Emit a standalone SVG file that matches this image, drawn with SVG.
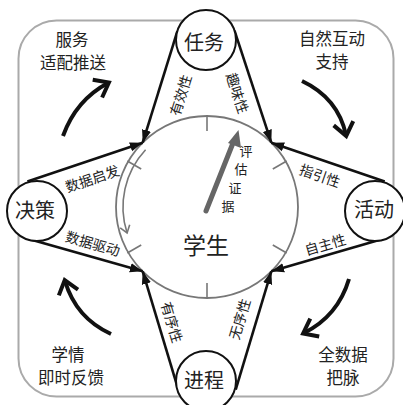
<svg xmlns="http://www.w3.org/2000/svg" width="403" height="405" viewBox="0 0 403 405">
  <style>
    .cjk { font-family: "Noto Sans CJK SC", "Noto Sans CJK JP", sans-serif; fill: #222; text-anchor: middle; dominant-baseline: central; }
    .node circle { fill: #fff; stroke: #111; stroke-width: 2; }
    .node text { font-size: 20px; }
    .conn { stroke: #111; stroke-width: 2.6; fill: none; marker-end: url(#ah); }
    .clab { font-size: 14px; }
    .corner { font-size: 16.5px; }
    .flow { stroke: #111; stroke-width: 4; fill: none; marker-end: url(#chev); }
    .tick { stroke: #777; stroke-width: 1.6; }
  </style>
  <defs>
    <marker id="ah" markerUnits="userSpaceOnUse" markerWidth="14" markerHeight="12" refX="11" refY="5" orient="auto" viewBox="0 0 12 10">
      <path d="M0,1 L11,5 L0,9 Z" fill="#111"/>
    </marker>
    <marker id="chev" markerUnits="userSpaceOnUse" markerWidth="24" markerHeight="24" refX="15" refY="12" orient="auto" viewBox="0 0 24 24">
      <path d="M3,2 L16,12 L3,22" fill="none" stroke="#111" stroke-width="4" stroke-linejoin="miter"/>
    </marker>
    <marker id="gchev" markerUnits="userSpaceOnUse" markerWidth="14" markerHeight="14" refX="9" refY="7" orient="auto" viewBox="0 0 14 14">
      <path d="M2,2 L9,7 L2,12" fill="none" stroke="#777" stroke-width="1.6"/>
    </marker>
  </defs>

  <!-- frame -->
  <rect x="18.5" y="20.5" width="375" height="376" rx="38" ry="38" fill="#fff" stroke="#aaa" stroke-width="2"/>

  <!-- corner flow arrows -->
  <g id="flows">
    <path class="flow" d="M63,136 Q76,100 108,83"/>
    <path class="flow" d="M302,81 Q338,98 346,135"/>
    <path class="flow" d="M349,279 Q338,316 304,333"/>
    <path class="flow" d="M111,334 Q76,318 65,281"/>
  </g>

  <!-- corner texts -->
  <text class="cjk corner" x="72" y="39">服务</text>
  <text class="cjk corner" x="73" y="62">适配推送</text>
  <text class="cjk corner" x="332" y="38">自然互动</text>
  <text class="cjk corner" x="332" y="61">支持</text>
  <text class="cjk corner" x="68" y="354">学情</text>
  <text class="cjk corner" x="71" y="377">即时反馈</text>
  <text class="cjk corner" x="343" y="354">全数据</text>
  <text class="cjk corner" x="343" y="377">把脉</text>

  <!-- student circle -->
  <g id="student">
    <circle cx="207" cy="207" r="91" fill="#fff" stroke="#777" stroke-width="1.8"/>
    <path d="M145.6,149.7 A84,84 0 0 0 127.1,233" fill="none" stroke="#777" stroke-width="1.6" marker-end="url(#gchev)"/>
    <line class="tick" x1="207" y1="131" x2="207" y2="115"/>
    <line class="tick" x1="272.8" y1="169" x2="286.7" y2="161"/>
    <line class="tick" x1="272.8" y1="245" x2="286.7" y2="253"/>
    <line class="tick" x1="207" y1="283" x2="207" y2="299"/>
    <line class="tick" x1="141.2" y1="245" x2="127.3" y2="253"/>
    <line class="tick" x1="141.2" y1="169" x2="127.3" y2="161"/>
    <line x1="206" y1="211" x2="233" y2="143" stroke="#666" stroke-width="5" stroke-linecap="round"/>
    <path d="M238.5,130 L241,148 L228,143 Z" fill="#666"/>
    <text class="cjk" x="246" y="150" font-size="13">评</text>
    <text class="cjk" x="241" y="168" font-size="13">估</text>
    <text class="cjk" x="235" y="187" font-size="13">证</text>
    <text class="cjk" x="228" y="205" font-size="13">据</text>
    <text class="cjk" x="206" y="244" font-size="23">学生</text>
  </g>

  <!-- connectors -->
  <g id="connectors">
    <line class="conn" x1="177.4" y1="31.1" x2="142.7" y2="142.7"/>
    <line class="conn" x1="27.4" y1="181.6" x2="142.7" y2="142.7"/>
    <line class="conn" x1="234.5" y1="30.6" x2="271.3" y2="142.7"/>
    <line class="conn" x1="384.7" y1="181.6" x2="271.3" y2="142.7"/>
    <line class="conn" x1="383.4" y1="238.8" x2="271.3" y2="271.3"/>
    <line class="conn" x1="235.7" y1="389.6" x2="271.3" y2="271.3"/>
    <line class="conn" x1="28.8" y1="238.9" x2="142.7" y2="271.3"/>
    <line class="conn" x1="178.3" y1="389.6" x2="142.7" y2="271.3"/>
    <text class="cjk clab" transform="translate(180,95) rotate(-72.7)">有效性</text>
    <text class="cjk clab" transform="translate(238,93) rotate(71.8)">趣味性</text>
    <text class="cjk clab" transform="translate(92,178) rotate(-18.6)">数据启发</text>
    <text class="cjk clab" transform="translate(320,175) rotate(18.9)">指引性</text>
    <text class="cjk clab" transform="translate(93,243) rotate(15.9)">数据驱动</text>
    <text class="cjk clab" transform="translate(325,244) rotate(-16.2)">自主性</text>
    <text class="cjk clab" transform="translate(172.5,322) rotate(73.2)">有序性</text>
    <text class="cjk clab" transform="translate(239,319) rotate(-73.2)">无序性</text>
  </g>

  <!-- nodes -->
  <g id="task" class="node">
    <circle cx="206" cy="40" r="30"/>
    <text class="cjk" x="204" y="41">任务</text>
  </g>
  <g id="decision" class="node">
    <circle cx="37" cy="211" r="30"/>
    <text class="cjk" x="35" y="209">决策</text>
  </g>
  <g id="activity" class="node">
    <circle cx="375" cy="211" r="30"/>
    <text class="cjk" x="374" y="208">活动</text>
  </g>
  <g id="process" class="node">
    <circle cx="206" cy="381" r="30"/>
    <text class="cjk" x="204" y="379">进程</text>
  </g>
</svg>
